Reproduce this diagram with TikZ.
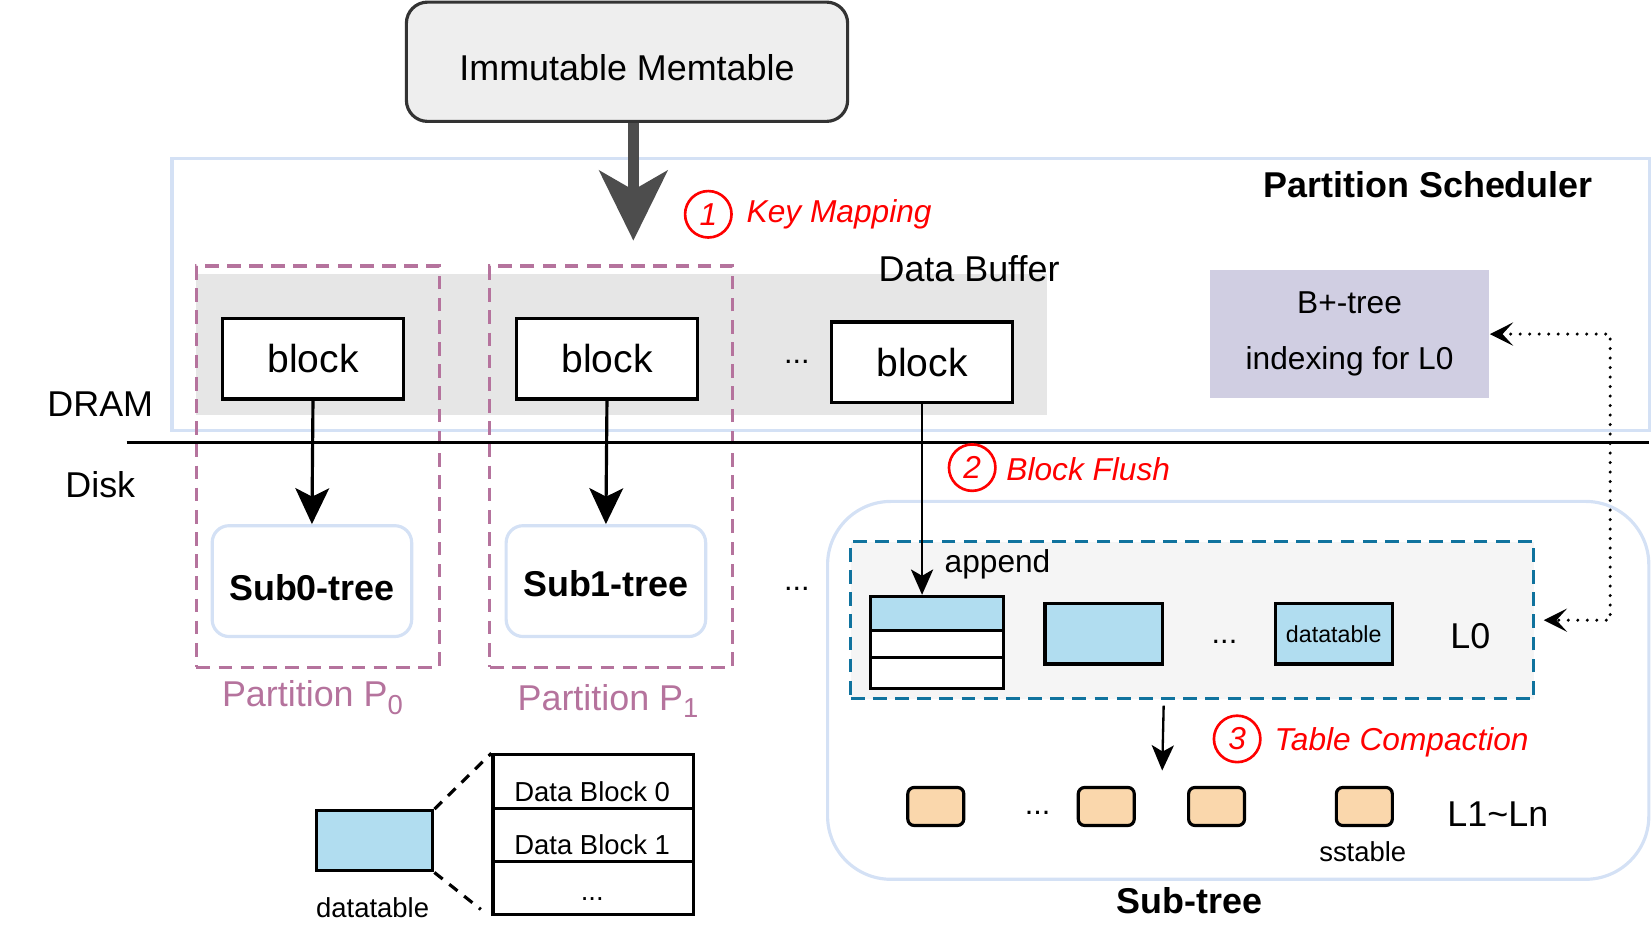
\documentclass[tikz,border=0pt]{standalone}
\usepackage{fontspec}
\setmainfont{Liberation Sans}
\usetikzlibrary{arrows.meta}

\definecolor{memfill}{HTML}{EEEEEE}
\definecolor{memdraw}{HTML}{333333}
\definecolor{maparrow}{HTML}{4D4D4D}
\definecolor{frameblue}{HTML}{D4E1F5}
\definecolor{buffergray}{HTML}{E6E6E6}
\definecolor{partpurple}{HTML}{B5739D}
\definecolor{tableblue}{HTML}{B1DDF0}
\definecolor{levelfill}{HTML}{F5F5F5}
\definecolor{leveldraw}{HTML}{10739E}
\definecolor{sstorange}{HTML}{FAD7AC}
\definecolor{bplusfill}{HTML}{D0CEE2}

\newcommand{\psub}[1]{\raisebox{-3.5pt}{\fontsize{13}{15}\selectfont #1}}

\begin{document}
\begin{tikzpicture}[x=0.5pt, y=-0.5pt,
        txtbig/.style={font=\fontsize{17}{20}\selectfont},
        txtbold/.style={font=\bfseries\fontsize{17}{20}\selectfont},
        txtmid/.style={font=\fontsize{15}{18}\selectfont},
        txtsmall/.style={font=\fontsize{13}{15}\selectfont},
        dots/.style={font=\fontsize{14.5}{17}\selectfont, inner sep=0pt},
        memtable/.style={draw=memdraw, fill=memfill, line width=1.5pt, rounded corners=10pt,
                minimum width=209pt, minimum height=56.5pt, text height=18pt, text depth=0pt,
                font=\fontsize{17}{20}\selectfont},
        schedframe/.style={draw=frameblue, line width=1.5pt, minimum width=700pt, minimum height=129pt},
        partbox/.style={draw=partpurple, line width=1.5pt, dash pattern=on 6.5pt off 4pt,
                minimum width=115pt, minimum height=190pt},
        partlabel/.style={text=partpurple, font=\fontsize{17}{20}\selectfont},
        blockbox/.style={draw, fill=white, line width=1.5pt, minimum width=85.5pt, minimum height=38pt,
                font=\fontsize{18.5}{22}\selectfont},
        subbox/.style={draw=frameblue, fill=white, line width=1.5pt, rounded corners=8pt,
                minimum width=94.5pt, minimum height=52.5pt, text depth=0pt,
                font=\bfseries\fontsize{17}{20}\selectfont},
        subtreeframe/.style={draw=frameblue, line width=1.5pt, rounded corners=30pt,
                minimum width=389pt, minimum height=179pt},
        levelbox/.style={draw=leveldraw, fill=levelfill, line width=1.5pt, dash pattern=on 6.5pt off 4pt,
                minimum width=323.5pt, minimum height=74.5pt},
        tablecell/.style={draw, fill=white, line width=1.5pt, minimum width=63pt, inner sep=0pt},
        datatab/.style={draw, fill=tableblue, line width=1.5pt, minimum width=55.5pt, minimum height=28.5pt,
                inner sep=0pt},
        sst/.style={draw, fill=sstorange, line width=1.5pt, rounded corners=3pt,
                minimum width=26.5pt, minimum height=18pt},
        bplus/.style={fill=bplusfill, minimum width=132.5pt, minimum height=60.5pt, align=center,
                font=\fontsize{15}{26.5}\selectfont},
        stepcircle/.style={circle, draw=red, line width=1.25pt, text=red, minimum size=22pt, inner sep=0pt,
                font=\itshape\fontsize{15}{18}\selectfont},
        steplabel/.style={anchor=base west, inner sep=0pt, text=red, font=\itshape\fontsize{15}{18}\selectfont},
        bigarrow/.style={draw=maparrow, line width=5.5pt, -{Stealth[length=33pt, width=32pt, inset=9pt]}},
        flow/.style={line width=1.5pt, -{Stealth[length=17pt, width=16pt, inset=4pt]}},
        thinflow/.style={line width=1.1pt, -{Stealth[length=12pt, width=10.5pt, inset=3pt]}},
        dotflow/.style={line width=1.6pt, line cap=round, dash pattern=on 0pt off 4.5pt,
                {Stealth[length=11pt, width=11pt, inset=5pt]}-{Stealth[length=11pt, width=11pt, inset=5pt]}},
        legenddash/.style={line width=1.5pt, dash pattern=on 5pt off 4pt}]
        \useasboundingbox (0,0) rectangle (1565,894);

        \node[memtable] (mem) at (594,58.5) {Immutable Memtable};
        \node[schedframe] (sched) at (863,279) {};
        \node[txtbold] (schedlabel) at (1353,175) {Partition Scheduler};
        \node[fill=buffergray, minimum width=403pt, minimum height=66.5pt] (buffer) at (589,326.5) {};
        \node[txtbig] (bufferlabel) at (918,255) {Data Buffer};
        \node[partbox] (p0) at (301,442) {};
        \node[partbox] (p1) at (579,442) {};
        \node[blockbox] (b0) at (296.5,340) {block};
        \node[blockbox] (b1) at (575,340) {block};
        \node[blockbox] (b2) at (873.5,343) {block};
        \node[dots] (bdots) at (755,343) {...};
        \node[bplus] (bpt) at (1278.5,316.5) {B+-tree\\indexing for L0};

        \coordinate (maptip) at (600,228);
        \draw[bigarrow] (mem.south -| maptip) -- (maptip);
        \node[stepcircle] (c1) at (671,203) {1};
        \node[steplabel] (maplabel) at (707,211) {Key Mapping};

        \coordinate (divl) at (120,419);
        \coordinate (divr) at (1562,419);
        \draw[line width=1.5pt] (divl) -- (divr);
        \node[txtbig] (dram) at (95,383) {DRAM};
        \node[txtbig] (disk) at (95,459) {Disk};

        \node[subbox, text height=18pt] (sub0) at (295.5,550.5) {Sub0-tree};
        \node[subbox, text height=14.7pt] (sub1) at (574,550.5) {Sub1-tree};
        \node[dots] (sdots) at (755,558) {...};
        \draw[flow] (b0.south) -- (sub0.north);
        \draw[flow] (b1.south) -- (sub1.north);
        \node[partlabel] (p0label) at (296,661) {Partition P\psub{0}};
        \node[partlabel] (p1label) at (576,664) {Partition P\psub{1}};

        \node[subtreeframe] (subtree) at (1173,654) {};
        \node[txtbold] (subtreelabel) at (1127,853) {Sub-tree};
        \node[levelbox] (l0) at (1129.5,587.5) {};
        \node[tablecell, fill=tableblue, minimum height=16pt] (st0) at (888,581) {};
        \node[tablecell, minimum height=13pt] (st1) at (888,610) {};
        \node[tablecell, minimum height=14.5pt] (st2) at (888,637.5) {};
        \node[datatab] (dt1) at (1045.5,600.5) {};
        \node[dots] (ldots) at (1160,608) {...};
        \node[datatab, font=\fontsize{11}{13}\selectfont] (dt2) at (1263.5,600.5) {datatable};
        \node[txtbig] (l0label) at (1393,603) {L0};
        \node[txtmid, anchor=base] (append) at (945,542) {append};
        \draw[thinflow, line width=1.35pt] (b2.south) -- (b2.south |- st0.north);
        \node[stepcircle] (c2) at (921,443) {2};
        \node[steplabel] (flushlabel) at (953,455) {Block Flush};

        \coordinate (cmptip) at (1101,730);
        \draw[thinflow, shorten <=2.5pt] (dt1.east |- l0.south) -- (cmptip);
        \node[stepcircle] (c3) at (1172,700) {3};
        \node[steplabel] (cmplabel) at (1207,711) {Table Compaction};
        \node[sst] (s0) at (886.5,764) {};
        \node[dots] (sstdots) at (983,770) {...};
        \node[sst] (s1) at (1048,764) {};
        \node[sst] (s2) at (1152.5,764) {};
        \node[sst] (s3) at (1292.5,764) {};
        \node[txtsmall] (sstlabel) at (1291,807) {sstable};
        \node[txtbig] (lnlabel) at (1419,771) {L1\textasciitilde Ln};

        \draw[dotflow] (bpt.east) -- ++(57pt,0) |- ([xshift=4pt]l0.east);

        \node[datatab, minimum width=55pt] (ldt) at (355,796.5) {};
        \node[txtsmall] (ldtlabel) at (353,860) {datatable};
        \node[tablecell, minimum width=95pt, minimum height=25.5pt] (r0) at (562,740.5) {};
        \node[tablecell, minimum width=95pt, minimum height=25pt] (r1) at (562,791) {};
        \node[tablecell, minimum width=95pt, minimum height=25pt] (r2) at (562,841) {};
        \node[txtsmall] (r0text) at (561,750) {Data Block 0};
        \node[txtsmall] (r1text) at (561,800) {Data Block 1};
        \node[dots, font=\fontsize{13}{15}\selectfont] (r2text) at (561,852) {...};
        \draw[legenddash] (ldt.north east) -- (r0.north west);
        \draw[legenddash] (ldt.south east) -- ([xshift=-5pt, yshift=3pt]r2.south west);
\end{tikzpicture}
\end{document}
